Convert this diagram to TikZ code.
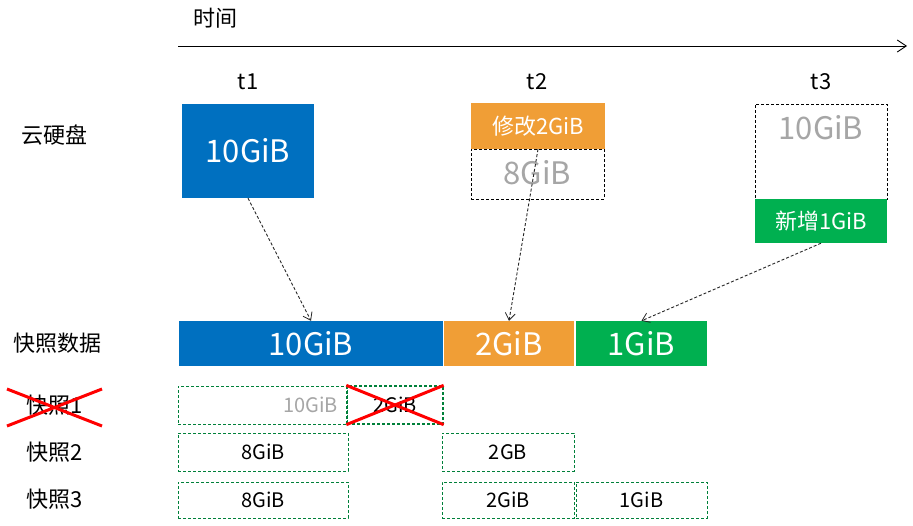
\documentclass[tikz,border=0pt]{standalone}
\usepackage{fontspec}
\setmainfont{Noto Sans CJK SC}
\usetikzlibrary{arrows.meta}
\definecolor{cblue}{HTML}{0070C0}
\definecolor{corange}{HTML}{F09E36}
\definecolor{cgreen}{HTML}{00B050}
\definecolor{cgray}{HTML}{A6A6A6}
\definecolor{sgreen}{HTML}{00803A}
\tikzset{
  solidbox/.style={draw=none, inner sep=0pt, text=white, font=\fontsize{31}{31}\selectfont},
  smallsolid/.style={draw=none, inner sep=0pt, text=white, font=\fontsize{22}{22}\selectfont},
  ghostbox/.style={draw=black, line width=1pt, dash pattern=on 3pt off 2pt, inner sep=0pt, text=cgray, font=\fontsize{31}{31}\selectfont},
  snapbox/.style={draw=sgreen, line width=1pt, dash pattern=on 3pt off 2pt, inner sep=0pt, text=black, font=\fontsize{20}{20}\selectfont},
  lbl/.style={inner sep=0pt, text=black, font=\fontsize{22}{22}\selectfont},
  link/.style={draw=black!85, line width=0.9pt, dash pattern=on 3pt off 2pt, -{Straight Barb[length=7pt,width=10pt,line width=0.8pt]}},
  redx/.style={draw=red, line width=3pt},
}
\begin{document}
\begin{tikzpicture}[x=1pt,y=-1pt]
\useasboundingbox (0,0) rectangle (913,525);
\fill[white] (0,0) rectangle (913,525);

% timeline
\node[lbl] (time) at (215,18) {时间};
\coordinate (tl0) at (178,46);
\coordinate (tl1) at (907,46);
\draw[line width=1pt, -{Straight Barb[length=9pt,width=12pt,line width=0.9pt]}] (tl0) -- (tl1);

\node[lbl, font=\fontsize{22}{22}\selectfont] (t1) at (248,82) {t1};
\node[lbl, font=\fontsize{22}{22}\selectfont] (t2) at (537,82) {t2};
\node[lbl, font=\fontsize{22}{22}\selectfont] (t3) at (821,82) {t3};

% row labels
\node[lbl] (disk) at (54,135) {云硬盘};
\node[lbl] (sdata) at (57,343) {快照数据};
\node[lbl] (s1) at (55,405) {快照1};
\node[lbl] (s2) at (55,452) {快照2};
\node[lbl] (s3) at (55,499) {快照3};

% disk at t1
\node[solidbox, fill=cblue, minimum width=132pt, minimum height=94pt] (d1) at (248,151) {10GiB};
% disk at t2
\node[ghostbox, minimum width=133pt, minimum height=50pt] (d2old) at (537.5,174) {\raisebox{4pt}{8GiB}};
\node[smallsolid, fill=corange, minimum width=134pt, minimum height=46pt] (d2new) at (538,126) {修改2GiB};
% disk at t3
\node[ghostbox, minimum width=132pt, minimum height=95pt] (d3old) at (821,151.5) {};
\node[inner sep=0pt, text=cgray, font=\fontsize{31}{31}\selectfont] (d3oldtxt) at (821,128) {10GiB};
\node[smallsolid, fill=cgreen, minimum width=132pt, minimum height=44pt] (d3new) at (821,221) {新增1GiB};

% snapshot data bar
\node[solidbox, fill=cblue, minimum width=264pt, minimum height=45pt] (b1) at (311,343.5) {10GiB};
\node[solidbox, fill=corange, minimum width=130pt, minimum height=45pt] (b2) at (509,343.5) {2GiB};
\node[solidbox, fill=cgreen, minimum width=131pt, minimum height=45pt] (b3) at (641.5,343.5) {1GiB};

% links
\draw[link] (d1.south) -- (b1.north);
\draw[link] (d2new.south) -- (b2.north);
\draw[link] (d3new.south) -- (b3.north);

% snapshot 1
\node[snapbox, minimum width=169pt, minimum height=38pt] (s1a) at (262.5,405) {};
\node[inner sep=0pt, text=cgray, font=\fontsize{20}{20}\selectfont, anchor=east] (s1atxt) at (338,405) {10GiB};
\node[snapbox, line width=1.3pt, minimum width=96pt, minimum height=38pt] (s1b) at (395,405) {2GiB};
\draw[redx] (s1b.north west) -- (s1b.south east);
\draw[redx] (s1b.south west) -- (s1b.north east);
\coordinate (x1a) at (7,389);
\coordinate (x1b) at (102,426);
\coordinate (x1c) at (7,426);
\coordinate (x1d) at (102,389);
\draw[redx] (x1a) -- (x1b);
\draw[redx] (x1c) -- (x1d);

% snapshot 2
\node[snapbox, minimum width=170pt, minimum height=38pt] (s2a) at (263,452) {8GiB};
\node[snapbox, minimum width=132pt, minimum height=38pt] (s2b) at (508,452) {2GB};

% snapshot 3
\node[snapbox, minimum width=170pt, minimum height=36pt] (s3a) at (263,500) {8GiB};
\node[snapbox, minimum width=132pt, minimum height=36pt] (s3b) at (508,500) {2GiB};
\node[snapbox, minimum width=131pt, minimum height=36pt] (s3c) at (641.5,500) {1GiB};
\end{tikzpicture}
\end{document}
